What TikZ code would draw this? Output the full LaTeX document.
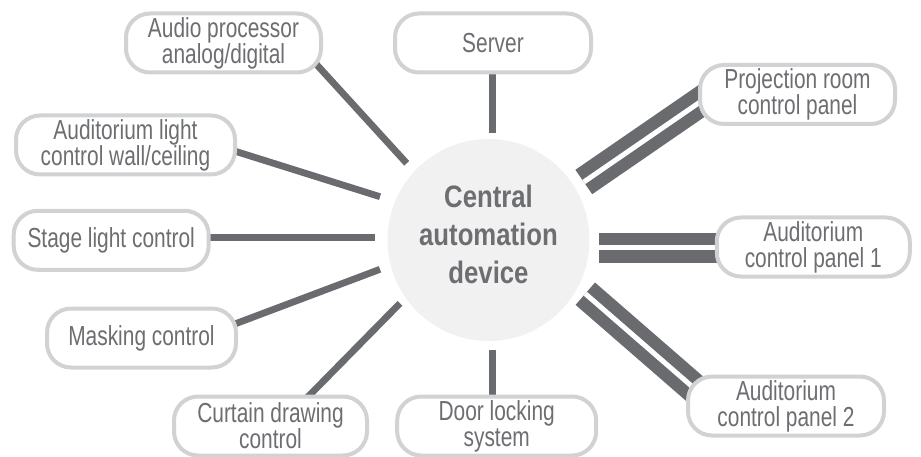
\documentclass[tikz,border=0pt]{standalone}
\usepackage{fontspec}
\setmainfont{Liberation Sans}[FakeStretch=0.76]
\newfontfamily\hubfont{Liberation Sans}[FakeStretch=0.83]
\usetikzlibrary{calc}
\definecolor{boxgray}{HTML}{D1D2D4}
\definecolor{lngray}{HTML}{6A6B6E}
\definecolor{txtgray}{HTML}{6D6E71}
\definecolor{circgray}{HTML}{F1F1F2}
\pgfdeclarelayer{bg}
\pgfsetlayers{bg,main}
\begin{document}
\begin{tikzpicture}[x=1pt,y=-1pt,
  box/.style={draw=boxgray, line width=4pt, fill=white, rounded corners=24pt,
    minimum height=59pt, minimum width=195pt, inner sep=0pt, text=txtgray,
    font=\fontsize{27.5}{26}\selectfont, align=center},
  hub/.style={circle, fill=circgray, minimum size=202pt, inner sep=0pt,
    text=txtgray, font=\hubfont\fontsize{31}{38}\selectfont\bfseries, align=center,
    text depth=12pt},
  conn/.style={draw=lngray, line width=6.8pt},
  dconn/.style={draw=lngray, line width=12.3pt, double=white, double distance=5pt}]
\useasboundingbox (0,0) rectangle (921,457);

\node[hub] (c) at (488.5,240) {Central\\automation\\device};

\node[box] (audio) at (223.5,43) {Audio processor\\analog/digital};
\node[box, minimum width=196pt] (server) at (493,43) {Server};
\node[box] (proj) at (797.5,94.5) {Projection room\\control panel};
\node[box, minimum width=219pt] (alight) at (125.5,145) {Auditorium light\\control wall/ceiling};
\node[box] (stage) at (111.2,240.3) {Stage light control};
\node[box, minimum width=193pt] (aud1) at (813.3,247) {Auditorium\\control panel 1};
\node[box, minimum width=189pt] (mask) at (141.5,338) {Masking control};
\node[box, minimum width=196pt] (aud2) at (786,406) {Auditorium\\control panel 2};
\node[box, minimum width=193pt] (curtain) at (270.5,426) {Curtain drawing\\control};
\node[box, minimum width=199pt] (door) at (496.7,426) {Door locking\\system};

\begin{pgfonlayer}{bg}
\draw[conn] ($(c.center)+(-81.8,-76.7)$) -- ($(audio.center)+(80,7.2)$);
\draw[conn] ($(c.center)+(-108.5,-43.3)$) -- ($(alight.center)+(87.3,-0.8)$);
\draw[conn] ($(c.center)+(-113.5,-2.7)$) -- ($(stage.center)+(78.8,-3)$);
\draw[conn] ($(c.center)+(-108.5,29.3)$) -- ($(mask.center)+(71.8,-5.9)$);
\draw[conn] ($(c.center)+(-88.5,63.3)$) -- ($(curtain.center)+(23.7,-15.2)$);
\draw[conn] ($(c.center)+(4,-107)$) -- ($(server.center)+(-0.5,7)$);
\draw[conn] ($(c.center)+(4.2,110)$) -- ($(door.center)+(-4,-6)$);
\draw[dconn] ($(c.center)+(95.3,-58)$) -- ($(proj.center)+(-73.6,-8.9)$);
\draw[dconn] ($(c.center)+(110.8,8)$) -- ($(aud1.center)+(-53.3,1)$);
\draw[dconn] ($(c.center)+(96.8,53.7)$) -- ($(aud2.center)+(-68.6,2.5)$);
\end{pgfonlayer}
\end{tikzpicture}
\end{document}
